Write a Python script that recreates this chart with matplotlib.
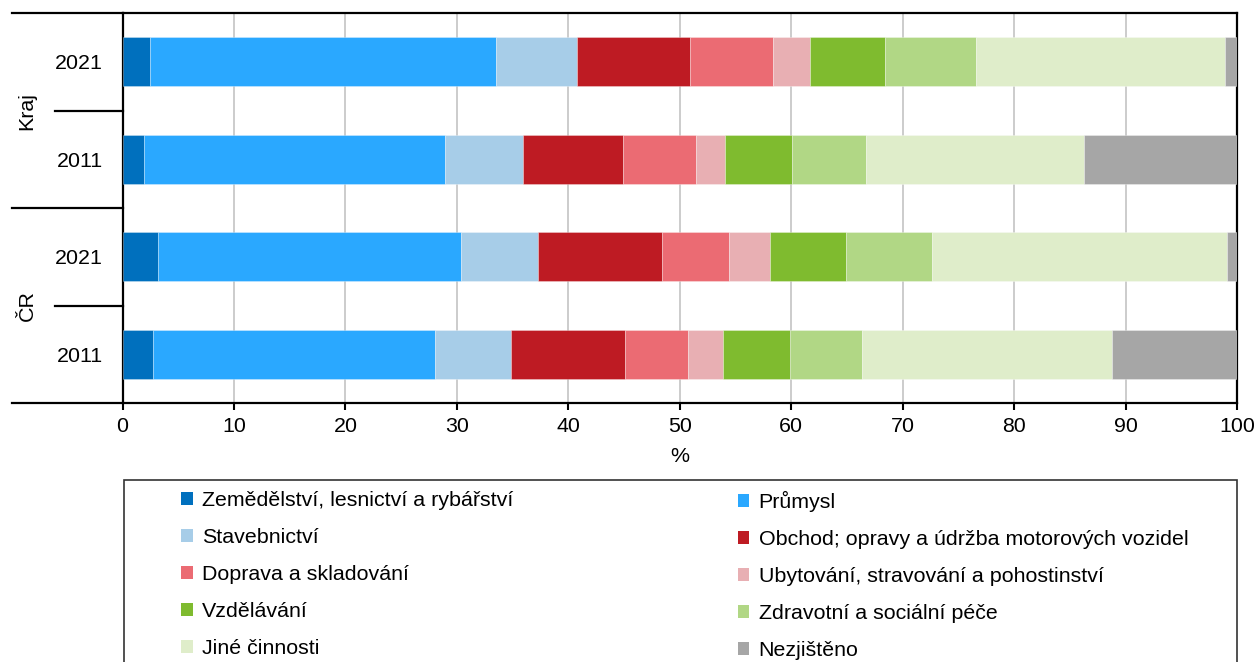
import matplotlib
matplotlib.use("Agg")
import matplotlib.pyplot as plt
from matplotlib.patches import Rectangle, Patch
import matplotlib.transforms as mtransforms
import numpy as np

plt.rcParams['font.family'] = ['Liberation Sans', 'DejaVu Sans']

# ---- data ----
groups = ["ČR", "Kraj"]
years = ["2011", "2021", "2011", "2021"]          # bottom to top
row_groups = ["ČR", "ČR", "Kraj", "Kraj"]
sectors = [
    "Zemědělství, lesnictví a rybářství",
    "Průmysl",
    "Stavebnictví",
    "Obchod; opravy a údržba motorových vozidel",
    "Doprava a skladování",
    "Ubytování, stravování a pohostinství",
    "Vzdělávání",
    "Zdravotní a sociální péče",
    "Jiné činnosti",
    "Nezjištěno",
]
colors = ["#0070BE", "#2AA8FF", "#A7CDE8", "#BE1B23", "#EB6B73",
          "#E8AFB3", "#7FBB2F", "#B1D785", "#DFEDCA", "#A6A6A6"]

# rows: ČR 2011, ČR 2021, Kraj 2011, Kraj 2021
cr_2011 = [2.7, 25.35, 6.85, 10.2, 5.6, 3.15, 6.05, 6.45, 22.45, 11.2]
cr_2021 = [3.2, 27.2, 6.9, 11.1, 6.05, 3.65, 6.8, 7.7, 26.5, 0.9]
kraj_2011 = [1.9, 27.0, 7.0, 9.0, 6.6, 2.6, 6.0, 6.6, 19.6, 13.7]
kraj_2021 = [2.5, 31.0, 7.3, 10.1, 7.5, 3.3, 6.75, 8.1, 22.35, 1.1]

values = np.array([cr_2011, cr_2021, kraj_2011, kraj_2021])
xticks = [0, 10, 20, 30, 40, 50, 60, 70, 80, 90, 100]

FS = 15.4
W, H = 1255, 662
fig = plt.figure(figsize=(W / 100, H / 100), dpi=100)
ax_l, ax_r, ax_t, ax_b = 122.5, 1237, 13, 403
ax = fig.add_axes([ax_l / W, 1 - ax_b / H, (ax_r - ax_l) / W, (ax_b - ax_t) / H])

ypos = np.arange(len(years))
left = np.zeros(len(years))
handles = []
for i, (name, col) in enumerate(zip(sectors, colors)):
    ax.barh(ypos, values[:, i], left=left, height=0.5, color=col,
            edgecolor=(1, 1, 1, 0.35), linewidth=0.6, zorder=3)
    left += values[:, i]
    handles.append(Patch(facecolor=col, edgecolor='none', label=name))

ax.set_xlim(0, 100)
ax.set_ylim(-0.5, 3.5)
ax.set_xticks(xticks)
ax.set_xticklabels([str(t) for t in xticks], fontsize=FS)
ax.tick_params(axis='x', direction='out', length=5, width=1.5, pad=5)
ax.set_yticks(ypos)
ax.set_yticklabels(years, fontsize=FS)
ax.tick_params(axis='y', length=0, pad=14)
ax.grid(axis='x', color='#C8C8C8', linewidth=1.3, zorder=0)
ax.set_axisbelow(True)
for s in ax.spines.values():
    s.set_linewidth(1.6)
    s.set_color('black')
ax.set_xlabel('%', fontsize=FS, labelpad=8)

# group labels and separators
trans = mtransforms.blended_transform_factory(ax.transAxes, ax.transData)
x_far = (12 - ax_l) / (ax_r - ax_l)
x_near = (55 - ax_l) / (ax_r - ax_l)
x_grp = (27 - ax_l) / (ax_r - ax_l)
for yy in [-0.5, 1.5, 3.5]:
    ax.plot([x_far, 0], [yy, yy], color='black', lw=1.6, transform=trans, clip_on=False)
for yy in [0.5, 2.5]:
    ax.plot([x_near, 0], [yy, yy], color='black', lw=1.6, transform=trans, clip_on=False)
for gi, g in enumerate(groups):
    ax.text(x_grp, 0.5 + 2 * gi, g, rotation=90, ha='center', va='center',
            fontsize=FS, transform=trans)

# legend frame
fig.add_artist(Rectangle((123.7 / W, -0.1), (1237 - 123.7) / W, 0.1 + 1 - 480 / H,
                         transform=fig.transFigure, facecolor='none',
                         edgecolor='#333333', linewidth=1.2))
col1 = [handles[i] for i in (0, 2, 4, 6, 8)]
col2 = [handles[i] for i in (1, 3, 5, 7, 9)]
common = dict(loc='upper left', frameon=False, fontsize=FS, handlelength=0.52,
              handleheight=0.52, handletextpad=0.45, labelspacing=0.84,
              borderpad=0, borderaxespad=0)
fig.legend(handles=col1, bbox_to_anchor=(181.5 / W, 1 - 491 / H), **common)
fig.legend(handles=col2, bbox_to_anchor=(738 / W, 1 - 491 / H), **common)

fig.savefig('out.png', dpi=100)
